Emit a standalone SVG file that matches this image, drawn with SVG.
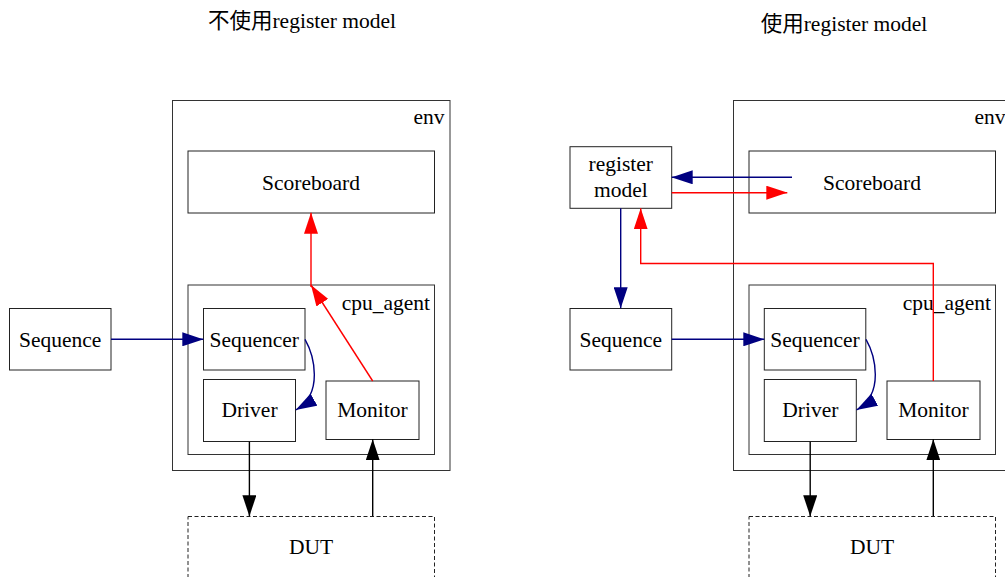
<svg xmlns="http://www.w3.org/2000/svg" width="1005" height="577" viewBox="0 0 1005 577">
  <style>
    text { font-family: "Liberation Serif", "Noto Sans CJK SC", serif; font-size: 21.5px; fill: #000; }
    .c { text-anchor: middle; }
    .e { text-anchor: end; }
    .box { fill: #fff; stroke: #222; stroke-width: 1; }
    .cluster { fill: none; stroke: #333; stroke-width: 1; }
    .dut { fill: #fff; stroke: #222; stroke-width: 1; stroke-dasharray: 4,2.5; }
    .blue { fill: none; stroke: #000080; stroke-width: 1.4; marker-end: url(#ahBlue); }
    .red { fill: none; stroke: #ff0000; stroke-width: 1.4; marker-end: url(#ahRed); }
    .redline { fill: none; stroke: #ff0000; stroke-width: 1.4; }
    .black { fill: none; stroke: #000; stroke-width: 1.4; marker-end: url(#ahBlack); }
  </style>
  <defs>
    <marker id="ahBlue" viewBox="0 0 21 14" refX="21" refY="7" markerUnits="userSpaceOnUse" markerWidth="21" markerHeight="14" orient="auto">
      <path d="M0,0 L21,7 L0,14 z" fill="#000080"/>
    </marker>
    <marker id="ahRed" viewBox="0 0 21 14" refX="21" refY="7" markerUnits="userSpaceOnUse" markerWidth="21" markerHeight="14" orient="auto">
      <path d="M0,0 L21,7 L0,14 z" fill="#ff0000"/>
    </marker>
    <marker id="ahBlack" viewBox="0 0 21 14" refX="21" refY="7" markerUnits="userSpaceOnUse" markerWidth="21" markerHeight="14" orient="auto">
      <path d="M0,0 L21,7 L0,14 z" fill="#000"/>
    </marker>
  </defs>
  <rect width="1005" height="577" fill="#fff"/>

  <!-- titles -->
  <text id="title-left" class="c" x="302" y="28">不使用register model</text>
  <text id="title-right" class="c" x="844" y="31">使用register model</text>

  <!-- ===== left: without register model ===== -->
  <g id="env-left">
    <rect class="cluster" x="172.5" y="100.5" width="277.5" height="370"/>
    <text class="e" x="444.5" y="124">env</text>
  </g>
  <g id="agent-left">
    <rect class="cluster" x="188" y="285" width="246.5" height="169.5"/>
    <text class="e" x="430" y="310">cpu_agent</text>
  </g>
  <g id="scoreboard-left">
    <rect class="box" x="188" y="151" width="246.5" height="62"/>
    <text class="c" x="311" y="189.5">Scoreboard</text>
  </g>
  <g id="sequence-left">
    <rect class="box" x="9.5" y="308.5" width="101.5" height="61.5"/>
    <text class="c" x="60.2" y="346.7">Sequence</text>
  </g>
  <g id="sequencer-left">
    <rect class="box" x="203.5" y="308.5" width="101.5" height="61.5"/>
    <text class="c" x="254.2" y="346.7">Sequencer</text>
  </g>
  <g id="driver-left">
    <rect class="box" x="203.5" y="379.5" width="92" height="62"/>
    <text class="c" x="249.5" y="416.7">Driver</text>
  </g>
  <g id="monitor-left">
    <rect class="box" x="326" y="381" width="93" height="58.5"/>
    <text class="c" x="372.5" y="416.7">Monitor</text>
  </g>
  <g id="dut-left">
    <rect class="dut" x="188" y="516.5" width="246.5" height="80"/>
    <text class="c" x="311" y="554">DUT</text>
  </g>

  <!-- ===== right: with register model ===== -->
  <g id="env-right">
    <rect class="cluster" x="733.5" y="100.5" width="277.5" height="370"/>
    <text class="e" x="1005.5" y="124">env</text>
  </g>
  <g id="agent-right">
    <rect class="cluster" x="749" y="285" width="246.5" height="169.5"/>
    <text class="e" x="991" y="310">cpu_agent</text>
  </g>
  <g id="scoreboard-right">
    <rect class="box" x="749" y="151" width="246.5" height="62"/>
    <text class="c" x="872" y="189.5">Scoreboard</text>
  </g>
  <g id="regmodel">
    <rect class="box" x="570" y="146.7" width="101.7" height="61.6"/>
    <text class="c" x="620.8" y="170.5">register</text>
    <text class="c" x="620.8" y="196.7">model</text>
  </g>
  <g id="sequence-right">
    <rect class="box" x="570" y="308.5" width="101.7" height="61.5"/>
    <text class="c" x="620.8" y="346.7">Sequence</text>
  </g>
  <g id="sequencer-right">
    <rect class="box" x="764.3" y="308.5" width="101.5" height="61.5"/>
    <text class="c" x="815" y="346.7">Sequencer</text>
  </g>
  <g id="driver-right">
    <rect class="box" x="764.3" y="379.5" width="92" height="62"/>
    <text class="c" x="810.3" y="416.7">Driver</text>
  </g>
  <g id="monitor-right">
    <rect class="box" x="887" y="381" width="93" height="58.5"/>
    <text class="c" x="933.4" y="416.7">Monitor</text>
  </g>
  <g id="dut-right">
    <rect class="dut" x="749" y="516.5" width="246.5" height="80"/>
    <text class="c" x="872" y="554">DUT</text>
  </g>

  <!-- connectors -->
  <g id="edges">
    <!-- left -->
    <path class="blue" d="M111,339.3 L203.3,339.3"/>
    <path class="blue" d="M305,339.3 C314,355 324,394 295.7,410"/>
    <path class="red" d="M372.7,381 L311,285"/>
    <path class="red" d="M311,287 L311,212.7"/>
    <path class="black" d="M249.4,441.7 L249.4,516.3"/>
    <path class="black" d="M372.7,516.3 L372.7,439.3"/>
    <!-- right -->
    <path class="blue" d="M792,177.3 L671.7,177.3"/>
    <path class="red" d="M671.7,192.7 L787.3,192.7"/>
    <path class="blue" d="M620.7,208.3 L620.7,308.3"/>
    <path class="red" d="M933.3,381 L933.3,263.5 L640.7,263.5 L640.7,208.3"/>
    <path class="blue" d="M671.7,339.3 L764.3,339.3"/>
    <path class="blue" d="M866,339.3 C875,355 885,394 856.5,410"/>
    <path class="black" d="M810.2,441.7 L810.2,516.3"/>
    <path class="black" d="M933.3,516.3 L933.3,439.3"/>
  </g>
</svg>
